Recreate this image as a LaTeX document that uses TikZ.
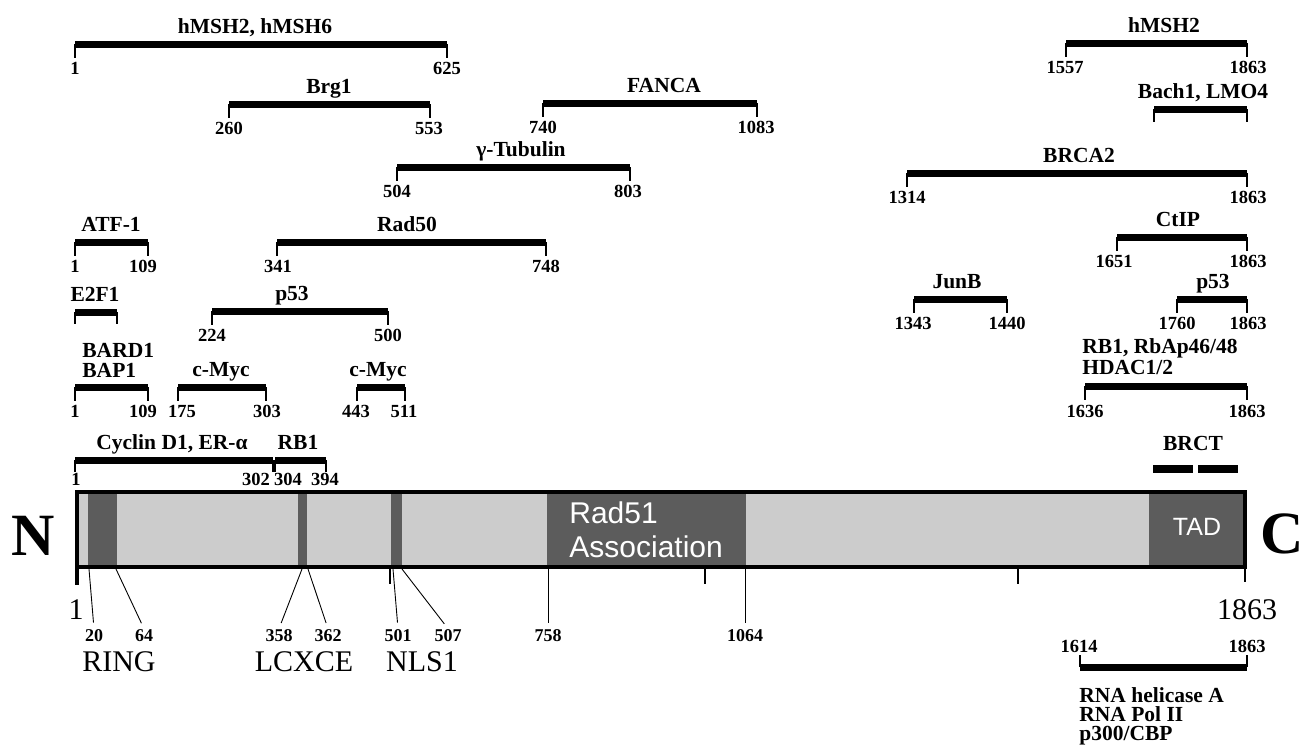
\documentclass[tikz,border=0pt]{standalone}
\usepackage{fontspec}
\setmainfont{Liberation Serif}
\newfontfamily\domsans{Liberation Sans}
\usepackage{tikz}
\usetikzlibrary{calc}
\definecolor{lightgrey}{gray}{0.80}
\definecolor{darkgrey}{gray}{0.36}
\tikzset{
  bind/.style={fill=black},
  tickline/.style={line width=0.6pt},
  partner/.style={font=\fontsize{10.75}{13}\selectfont\bfseries, inner sep=0pt, anchor=base},
  resid/.style={font=\fontsize{9.25}{11}\selectfont\bfseries, inner sep=0pt, anchor=base},
  site/.style={font=\fontsize{9}{11}\selectfont\bfseries, inner sep=0pt, anchor=base},
  motif/.style={font=\fontsize{15}{17}\selectfont, inner sep=0pt, anchor=base},
  inlabel/.style={text=white, inner sep=0pt},
  terminus/.style={font=\fontsize{30}{30}\selectfont\bfseries, inner sep=0pt},
  bignum/.style={font=\fontsize{15}{17}\selectfont, inner sep=0pt, anchor=base},
  conn/.style={line width=0.45pt, shorten >=3pt},
  scaletick/.style={line width=1.4pt}
}

\begin{document}
\begin{tikzpicture}[x=0.5pt,y=-0.5pt,line cap=butt]
\useasboundingbox (0,0) rectangle (1305,752);

% interacting regions, start and end residue
\foreach \xa/\xb/\y/\nx/\txt/\ra/\rax/\rb/\rbx [count=\i] in {
  75/447/44/255/{hMSH2, hMSH6}/1/75/625/447,
  229/430/104/329/Brg1/260/229/553/429,
  543/757/103/664/FANCA/740/543/1083/756,
  397/630/167/521/γ-Tubulin/504/397/803/628,
  75/148/242/111/ATF-1/1/75/109/143,
  277/546/242/407/Rad50/341/278/748/546,
  212/388/311/292/p53/224/212/500/388,
  178/266/387/221/c-Myc/175/182/303/267,
  357/405/387/378/c-Myc/443/356/511/404,
  1066/1247/43/1164/hMSH2/1557/1065/1863/1248,
  907/1247/173/1079/BRCA2/1314/907/1863/1248,
  1117/1247/237/1178/CtIP/1651/1114/1863/1248,
  914/1007/299/957/JunB/1343/913/1440/1007,
  1177/1247/299/1213/p53/1760/1177/1863/1248}
{
  \fill[bind] (\xa,\y-3.5) rectangle (\xb,\y+3.5);
  \draw[tickline] (\xa,\y) -- (\xa,\y+14) (\xb,\y) -- (\xb,\y+14);
  \node[partner] (name\i) at (\nx,\y-11) {\txt};
  \node[resid] (start\i) at (\rax,\y+30) {\ra};
  \node[resid] (end\i) at (\rbx,\y+30) {\rb};
}

% E2F1 and Bach1 without residues
\fill[bind] (75,308.5) rectangle (117,315.5);
\draw[tickline] (75,312) -- (75,324) (117,312) -- (117,324);
\node[partner] (e2f) at (95,301) {E2F1};
\fill[bind] (1154,105.5) rectangle (1247,112.5);
\draw[tickline] (1154,109) -- (1154,122) (1247,109) -- (1247,122);
\node[partner] (bach) at (1203,98) {Bach1, LMO4};

% two-line partners
\fill[bind] (75,383.5) rectangle (148,390.5);
\draw[tickline] (75,387) -- (75,401) (148,387) -- (148,401);
\node[partner, anchor=base west] (bard) at (82,357) {BARD1};
\node[partner, anchor=base west] (bap) at (82,377) {BAP1};
\node[resid] (bapa) at (75,417) {1};
\node[resid] (bapb) at (143,417) {109};

\fill[bind] (1085,382.5) rectangle (1247,389.5);
\draw[tickline] (1085,386) -- (1085,400) (1247,386) -- (1247,400);
\node[partner, anchor=base west] (rbap) at (1082,353) {RB1, RbAp46/48};
\node[partner, anchor=base west] (hdac) at (1082,374) {HDAC1/2};
\node[resid] (rbapa) at (1085,417) {1636};
\node[resid] (rbapb) at (1247,417) {1863};

% Cyclin D1 / RB1 just above the protein
\fill[bind] (75,456.5) rectangle (273,463.5);
\fill[bind] (275,456.5) rectangle (326,463.5);
\draw[tickline] (75,460) -- (75,472) (273,460) -- (273,472) (275,460) -- (275,472) (326,460) -- (326,472);
\node[partner] (cyc) at (172,449) {Cyclin D1, ER-α};
\node[partner] (rbone) at (298,449) {RB1};
\node[resid] (cyca) at (76,485) {1};
\node[resid] (cycb) at (256,485) {302};
\node[resid] (rba) at (288,485) {304};
\node[resid] (rbb) at (325,485) {394};

% BRCT repeats
\fill[bind] (1153,465) rectangle (1193,473);
\fill[bind] (1198,465) rectangle (1238,473);
\node[partner] (brct) at (1193,450) {BRCT};

% the protein
\fill[lightgrey] (77,492) rectangle (1245,567);
\foreach \xa/\xb in {88/117, 298/307, 391/402, 547/746, 1149/1245}
  \fill[darkgrey] (\xa,492) rectangle (\xb,567);
\draw[line width=2pt] (77,492) rectangle (1245,567);
\draw[line width=2.4pt] (77,490) -- (77,585);
\draw[scaletick] (1245,567) -- (1245,582);
\foreach \t in {390,705,1018}
  \draw[scaletick] (\t,567) -- (\t,584);

\node[inlabel, font=\domsans\fontsize{15}{17}\selectfont, anchor=base west] (rad) at (569,523) {Rad51};
\node[inlabel, font=\domsans\fontsize{15}{17}\selectfont, anchor=base west] (assoc) at (569,557) {Association};
\node[inlabel, font=\domsans\fontsize{12.5}{14}\selectfont, anchor=base] (tad) at (1197,535) {TAD};

\node[terminus, anchor=base] (nterm) at (33,555) {N};
\node[terminus, anchor=base east] (cterm) at (1304,553) {C};
\node[bignum] (first) at (76,619) {1};
\node[bignum] (last) at (1247,619) {1863};

% motif boundaries
\foreach \xs/\xe/\n in {89/94/20, 116/144/64, 302/279/358, 308/328/362, 393/398/501, 402/448/507, 548/548/758, 745/745/1064}
{
  \node[site] (s\n) at (\xe,641) {\n};
  \draw[conn] (\xs,569) -- (s\n.north);
}
\node[motif] (ring) at (119,671) {RING};
\node[motif] (lcxce) at (304,671) {LCXCE};
\node[motif] (nls) at (422,671) {NLS1};

% C-terminal partners
\fill[bind] (1080,663.5) rectangle (1247,670.5);
\draw[tickline] (1080,667) -- (1080,655) (1247,667) -- (1247,655);
\node[resid] (rnaa) at (1079,652) {1614};
\node[resid] (rnab) at (1247,652) {1863};
\node[partner, anchor=base west] (hel) at (1079,702) {RNA helicase A};
\node[partner, anchor=base west] (pol) at (1079,721) {RNA Pol II};
\node[partner, anchor=base west] (cbp) at (1079,740) {p300/CBP};
\end{tikzpicture}
\end{document}
